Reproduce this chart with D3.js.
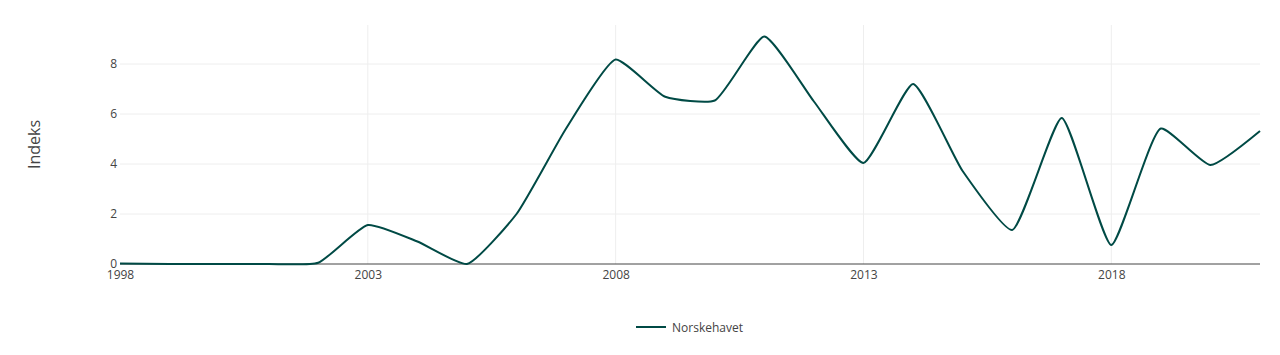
<!DOCTYPE html>
<html><head><meta charset="utf-8">
<script src="https://cdn.jsdelivr.net/npm/d3@7"></script>
<style>body{margin:0;background:#fff;} svg{display:block;font-family:"Open Sans",sans-serif;}</style>
</head><body><svg id="c" width="1280" height="355"></svg>
<script>
const years = [1998,1999,2000,2001,2002,2003,2004,2005,2006,2007,2008,2009,2010,2011,2012,2013,2014,2015,2016,2017,2018,2019,2020,2021];
const values = [0.02,0.0,0.0,0.0,0.05,1.56,0.9,0.0,2.0,5.42,8.18,6.69,6.54,9.1,6.5,4.04,7.2,3.72,1.36,5.84,0.76,5.42,3.96,5.32];
const xTicks = [1998,2003,2008,2013,2018];
const yTicks = [0,2,4,6,8];
const seriesName = "Norskehavet";
const yTitle = "Indeks";
const color = "#004a45";

const svg = d3.select("#c");
const m = {l:120, r:20, t:25, b:91};
const W = 1280, H = 355;
const x = d3.scaleLinear().domain([1998,2021]).range([m.l, W-m.r]);
const y = d3.scaleLinear().domain([0,9.56]).range([H-m.b, m.t]);

// grid
svg.append("g").selectAll("line").data(yTicks.filter(d=>d>0)).join("line")
  .attr("x1",m.l).attr("x2",W-m.r).attr("y1",d=>y(d)).attr("y2",d=>y(d))
  .attr("stroke","#eee").attr("stroke-width",1);
svg.append("g").selectAll("line").data(xTicks.filter(d=>d>1998)).join("line")
  .attr("y1",m.t).attr("y2",H-m.b).attr("x1",d=>x(d)).attr("x2",d=>x(d))
  .attr("stroke","#eee").attr("stroke-width",1);

// axes labels
const xa = svg.append("g").attr("transform",`translate(0,${H-m.b})`)
  .call(d3.axisBottom(x).tickValues(xTicks).tickFormat(d3.format("d")).tickSize(0).tickPadding(6));
xa.select(".domain").remove();
xa.selectAll("text").attr("fill","#444").style("font-size","12px").style("font-family","'Open Sans',sans-serif");
const ya = svg.append("g").attr("transform",`translate(${m.l},0)`)
  .call(d3.axisLeft(y).tickValues(yTicks).tickSize(0).tickPadding(3));
ya.select(".domain").remove();
ya.selectAll("text").attr("fill","#444").style("font-size","12px").style("font-family","'Open Sans',sans-serif");

// zero line
svg.append("line").attr("x1",m.l).attr("x2",W-m.r).attr("y1",y(0)).attr("y2",y(0))
  .attr("stroke","#444").attr("stroke-width",1);

// plotly-style spline through scaled points
function splinePath(pts, smoothness){
  const E = 0.5;
  function tangent(p, t, n){
    const d1x=p[0]-t[0], d1y=p[1]-t[1], d2x=n[0]-t[0], d2y=n[1]-t[1];
    const d1a=Math.pow(d1x*d1x+d1y*d1y,E/2), d2a=Math.pow(d2x*d2x+d2y*d2y,E/2);
    const numx=(d2a*d2a*d1x-d1a*d1a*d2x)*smoothness, numy=(d2a*d2a*d1y-d1a*d1a*d2y)*smoothness;
    const den1=3*d2a*(d1a+d2a), den2=3*d1a*(d1a+d2a);
    return [[t[0]+(den1&&numx/den1), t[1]+(den1&&numy/den1)],
            [t[0]-(den2&&numx/den2), t[1]-(den2&&numy/den2)]];
  }
  const tg=[];
  for(let i=1;i<pts.length-1;i++) tg.push(tangent(pts[i-1],pts[i],pts[i+1]));
  let d="M"+pts[0]+"Q"+tg[0][0]+" "+pts[1];
  for(let i=2;i<pts.length-1;i++) d+="C"+tg[i-2][1]+" "+tg[i-1][0]+" "+pts[i];
  d+="Q"+tg[pts.length-3][1]+" "+pts[pts.length-1];
  return d;
}
const pts = values.map((v,i)=>[x(years[i]), y(v)]);
svg.append("path").attr("d",splinePath(pts,0.5)).attr("fill","none")
  .attr("stroke",color).attr("stroke-width",2);

// y title
svg.append("text").attr("transform",`translate(40,${(m.t+H-m.b)/2}) rotate(-90)`)
  .attr("text-anchor","middle").attr("fill","#444").style("font-size","16px")
  .text(yTitle);

// legend
const lg = svg.append("g").attr("transform","translate(636,327)");
lg.append("line").attr("x1",0).attr("x2",30).attr("y1",0).attr("y2",0).attr("stroke",color).attr("stroke-width",2);
lg.append("text").attr("x",36).attr("y",4.5).attr("fill","#444").style("font-size","12px").text(seriesName);
</script></body></html>
